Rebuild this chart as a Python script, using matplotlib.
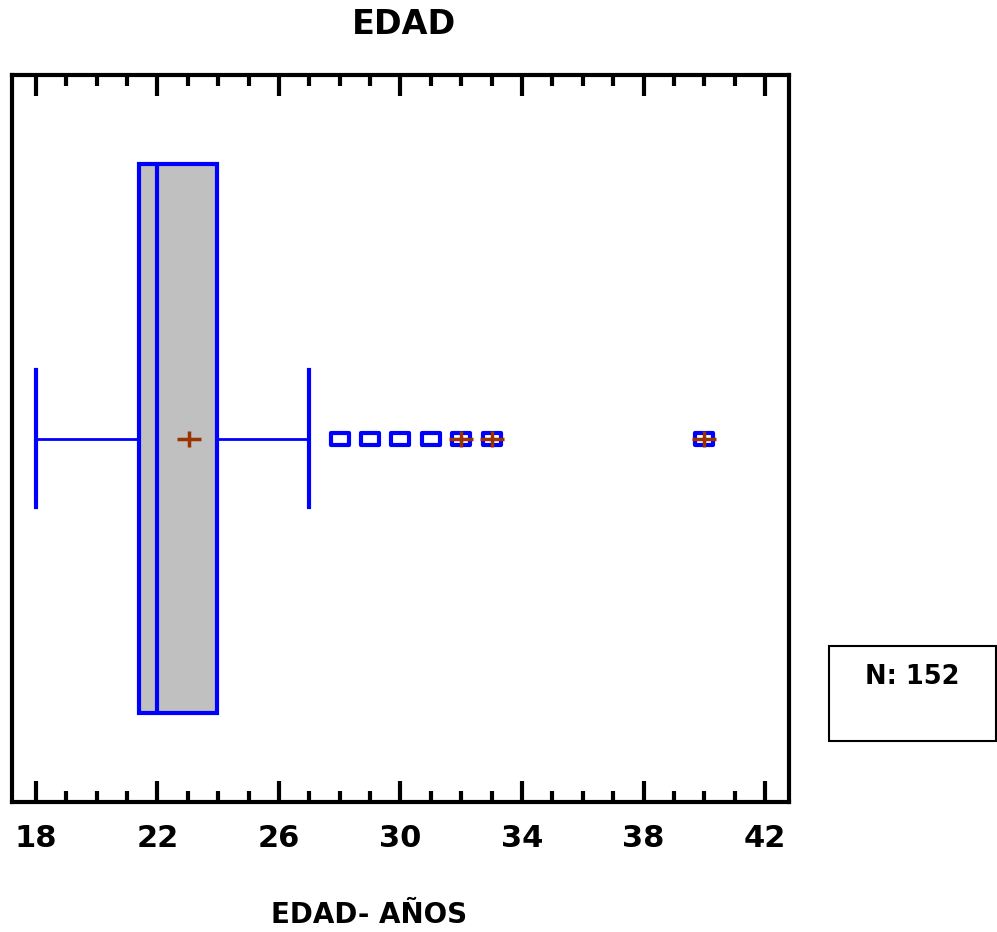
import matplotlib
matplotlib.use("Agg")
import matplotlib.pyplot as plt
from matplotlib.ticker import MultipleLocator
from matplotlib.patches import Rectangle
from matplotlib.path import Path

plt.rcParams['font.family'] = ['DejaVu Sans']

# Data
title = "EDAD"
xlabel = "EDAD- AÑOS"
q1, median, q3 = 21.4, 22.0, 23.95
whisker_low, whisker_high = 18.0, 27.0
mean_value = 23.05
outliers = [28, 29, 30, 31, 32, 33, 40]
far_outliers = [32, 33, 40]
n_label = "N: 152"
xticks = [18, 22, 26, 30, 34, 38, 42]

blue = "#0000ff"
brown = "#993300"

plus_marker = Path([(-1, 0), (1, 0), (0, -0.65), (0, 0.65)],
                   [Path.MOVETO, Path.LINETO, Path.MOVETO, Path.LINETO])
rect_marker = Path([(-1, -0.65), (1, -0.65), (1, 0.65), (-1, 0.65), (-1, -0.65)],
                   [Path.MOVETO, Path.LINETO, Path.LINETO, Path.LINETO, Path.CLOSEPOLY])

fig = plt.figure(figsize=(9.97, 9.32), dpi=100)
ax = fig.add_axes([0.012, 0.1395, 0.7794, 0.78])

stats = [dict(med=median, q1=q1, q3=q3, whislo=whisker_low, whishi=whisker_high,
              mean=mean_value, fliers=[])]
ax.bxp(stats, positions=[0], widths=0.754, capwidths=0.188, vert=False,
       patch_artist=True, showmeans=True, showfliers=False,
       boxprops=dict(facecolor="#c0c0c0", edgecolor=blue, linewidth=3),
       medianprops=dict(color=blue, linewidth=3),
       whiskerprops=dict(color=blue, linewidth=2),
       capprops=dict(color=blue, linewidth=3),
       meanprops=dict(marker=plus_marker, markeredgecolor=brown, markersize=17,
                      markeredgewidth=2.5))

ax.plot(outliers, [0] * len(outliers), linestyle="none", marker=rect_marker,
        markersize=13.5, markerfacecolor="none", markeredgecolor=blue,
        markeredgewidth=3)
ax.plot(far_outliers, [0] * len(far_outliers), linestyle="none", marker=plus_marker,
        markersize=17, markeredgecolor=brown, markeredgewidth=2.5)

ax.set_xlim(17.21, 42.79)
ax.set_ylim(-0.5, 0.5)
ax.set_yticks([])
ax.set_xticks(xticks)
ax.set_xticklabels([str(t) for t in xticks], fontsize=22, fontweight="bold")
ax.xaxis.set_minor_locator(MultipleLocator(1))
ax.tick_params(axis="x", which="major", direction="in", length=15, width=3,
               top=True, bottom=True, pad=16)
ax.tick_params(axis="x", which="minor", direction="in", length=8, width=3,
               top=True, bottom=True)
for s in ax.spines.values():
    s.set_linewidth(3)

fig.text(404 / 997, 1 - 25 / 932, title, ha="center", va="center",
         fontsize=24, fontweight="bold")
fig.text(369 / 997, 1 - 915 / 932, xlabel, ha="center", va="center",
         fontsize=20, fontweight="bold")

# N box
fig.patches.append(Rectangle((829 / 997, 1 - 741 / 932), 167 / 997, 95 / 932,
                             transform=fig.transFigure, fill=False,
                             edgecolor="black", linewidth=1.5))
fig.text(912 / 997, 1 - 677 / 932, n_label, ha="center", va="center",
         fontsize=18.5, fontweight="bold")

fig.savefig("out.png", dpi=100)
